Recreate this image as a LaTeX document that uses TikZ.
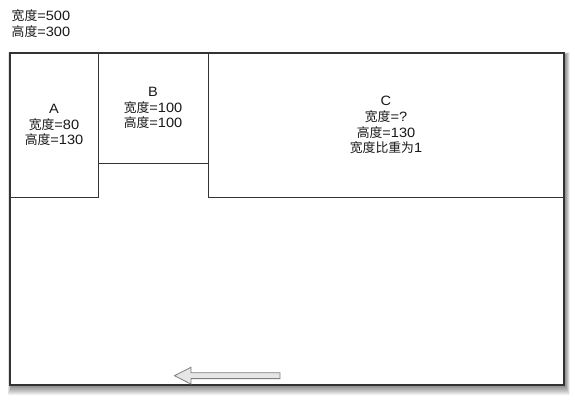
\documentclass[tikz,border=0pt]{standalone}
\usepackage{fontspec}
\setmainfont{Liberation Sans}[FakeStretch=1.08]
\newfontfamily\cjk{Noto Sans CJK SC}[Scale=0.95]
\newcommand{\zh}[1]{{\cjk #1}}
\definecolor{framecol}{HTML}{333333}
\definecolor{arrowfill}{HTML}{E6E6E6}
\definecolor{arrowdraw}{HTML}{7F7F7F}
\begin{document}
\begin{tikzpicture}[x=1pt,y=-1pt,
  lbl/.style={align=center, font=\fontsize{13.5}{15.8}\selectfont, inner sep=0pt, text=black!90},
  outerframe/.style={draw=framecol, line width=1.3pt},
  innerframe/.style={draw=framecol, line width=0.9pt},
  bigarrow/.style={draw=arrowdraw, fill=arrowfill, line width=0.8pt, line join=miter}]
\useasboundingbox (0,0) rectangle (575,401);
% soft shadow
\foreach \i in {1,...,9}
  \fill[black, opacity=0.06] (10-0.4*\i+1.5, 53-0.3*\i+2) rectangle (564+0.55*\i+1, 385+1.1*\i+0.5);
\fill[white] (10,53) rectangle (564,385);
% inner boxes
\draw[innerframe] (10,53) rectangle (98,197);
\draw[innerframe] (98,53) rectangle (208,163);
\draw[innerframe] (208,53) rectangle (564,197);
\draw[outerframe] (10,53) rectangle (564,385);
% labels
\node[lbl, anchor=west, align=left] (dims) at (11.5,23.5) {\zh{宽度}=500\\\zh{高度}=300};
\node[lbl] (A) at (54,125) {A\\\zh{宽度}=80\\\zh{高度}=130};
\node[lbl] (B) at (153,108) {B\\\zh{宽度}=100\\\zh{高度}=100};
\node[lbl] (C) at (386,125) {C\\\zh{宽度}=?\\\zh{高度}=130\\\zh{宽度比重为}1};
% arrow
\draw[bigarrow] (280,372.8) -- (191,372.8) -- (191,367.3) -- (174.5,375.7) -- (191,384.1) -- (191,378.6) -- (280,378.6) -- cycle;
\end{tikzpicture}
\end{document}
